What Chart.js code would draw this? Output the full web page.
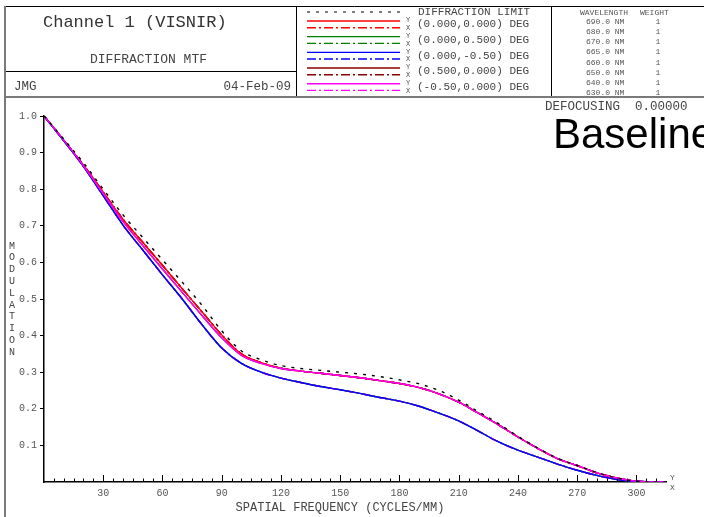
<!DOCTYPE html>
<html>
<head>
<meta charset="utf-8">
<title>Channel 1 (VISNIR) - Diffraction MTF</title>
<script src="https://cdn.jsdelivr.net/npm/chart.js@4/dist/chart.umd.min.js"></script>
<style>
  html, body { margin: 0; padding: 0; background: #fff; }
  #wrap { width: 704px; height: 517px; }
</style>
</head>
<body>
<div id="wrap"><canvas id="mtf" width="704" height="517"></canvas></div>
<script>
// spatial frequency samples (cycles/mm)
const freqs = [0, 10, 20, 30, 40, 50, 60, 70, 80, 90, 100, 110, 120, 130, 140, 150, 160,
  170, 180, 190, 200, 210, 220, 230, 240, 250, 260, 270, 280, 290, 300, 310, 315];

// modulation values
const mtfDiffraction = [1.0, 0.937, 0.872, 0.800, 0.730, 0.668, 0.607, 0.546, 0.483, 0.413,
  0.358, 0.334, 0.318, 0.310, 0.305, 0.300, 0.295, 0.288, 0.279, 0.268, 0.250, 0.224, 0.192,
  0.160, 0.125, 0.093, 0.065, 0.045, 0.026, 0.011, 0.002, 0.0, 0.0];
const mtfUpper = [1.0, 0.934, 0.866, 0.792, 0.718, 0.655, 0.592, 0.528, 0.465, 0.402,
  0.350, 0.326, 0.311, 0.303, 0.297, 0.291, 0.285, 0.277, 0.269, 0.258, 0.241, 0.218, 0.188,
  0.157, 0.123, 0.092, 0.064, 0.045, 0.025, 0.011, 0.002, 0.0, 0.0];
const mtfUpperOff = [1.0, 0.934, 0.864, 0.788, 0.712, 0.646, 0.582, 0.518, 0.455, 0.394,
  0.346, 0.324, 0.310, 0.303, 0.297, 0.291, 0.285, 0.277, 0.269, 0.258, 0.241, 0.218, 0.188,
  0.157, 0.123, 0.092, 0.064, 0.045, 0.025, 0.011, 0.002, 0.0, 0.0];
const mtfLower = [1.0, 0.932, 0.862, 0.782, 0.702, 0.634, 0.566, 0.500, 0.430, 0.366,
  0.324, 0.300, 0.284, 0.272, 0.261, 0.252, 0.242, 0.231, 0.221, 0.207, 0.188, 0.167, 0.139,
  0.110, 0.087, 0.068, 0.049, 0.032, 0.018, 0.007, 0.002, 0.0, 0.0];

const yTicks = [0.1, 0.2, 0.3, 0.4, 0.5, 0.6, 0.7, 0.8, 0.9, 1.0];
const xTickLabels = [30, 60, 90, 120, 150, 180, 210, 240, 270, 300];

// field legend
const fieldLabels = ["(0.000,0.000) DEG", "(0.000,0.500) DEG", "(0.000,-0.50) DEG",
  "(0.500,0.000) DEG", "(-0.50,0.000) DEG"];
const fieldColors = ["#ff0000", "#008000", "#0000ff", "#8b0000", "#ff00ff"];

const wavelengths = ["690.0", "680.0", "670.0", "665.0", "660.0", "650.0", "640.0", "630.0"];
const weights = [1, 1, 1, 1, 1, 1, 1, 1];

const MONO = "'Liberation Mono', 'DejaVu Sans Mono', monospace";
const dashDot = [9, 3, 2, 3];
const dotted = [3, 6];

function pts(values) {
  return freqs.map((f, i) => ({ x: f, y: values[i] }));
}

function line(label, values, color, dash) {
  return {
    label: label,
    data: pts(values),
    borderColor: color,
    borderWidth: 1.4,
    borderDash: dash || [],
    pointRadius: 0,
    cubicInterpolationMode: "monotone",
    fill: false
  };
}

// first dataset ends up on top
const datasets = [
  line("DIFFRACTION LIMIT", mtfDiffraction, "#000000", dotted),
  line("(-0.50,0.000) Y", mtfUpperOff, fieldColors[4]),
  line("(0.000,-0.50) Y", mtfLower, fieldColors[2]),
  line("(0.000,0.000) Y", mtfUpper, fieldColors[0]),
  line("(-0.50,0.000) X", mtfLower, fieldColors[4], dashDot),
  line("(0.000,0.500) Y", mtfLower, fieldColors[1]),
  line("(0.000,0.000) X", mtfUpper, fieldColors[0], dashDot),
  line("(0.000,-0.50) X", mtfUpper, fieldColors[2], dashDot),
  line("(0.500,0.000) Y", mtfUpperOff, fieldColors[3]),
  line("(0.000,0.500) X", mtfUpper, fieldColors[1], dashDot),
  line("(0.500,0.000) X", mtfLower, fieldColors[3], dashDot)
];

function seg(ctx, x1, y1, x2, y2) {
  ctx.beginPath();
  ctx.moveTo(x1, y1);
  ctx.lineTo(x2, y2);
  ctx.stroke();
}

// header block, legend, axis captions and inward x ticks
const plotDecor = {
  id: "plotDecor",
  beforeDraw(chart) {
    const ctx = chart.ctx;
    ctx.save();
    ctx.fillStyle = "#fff";
    ctx.fillRect(0, 0, chart.width, chart.height);
    ctx.restore();
  },
  afterDraw(chart) {
    const ctx = chart.ctx;
    const xs = chart.scales.x;
    ctx.save();

    // frame
    ctx.strokeStyle = "#000";
    ctx.lineWidth = 1;
    seg(ctx, 5, 6.5, 704, 6.5);
    seg(ctx, 5, 71.5, 296, 71.5);
    seg(ctx, 296.5, 6, 296.5, 97);
    seg(ctx, 551.5, 6, 551.5, 97);
    ctx.strokeStyle = "#7a7a7a";
    ctx.lineWidth = 2;
    seg(ctx, 5, 97, 704, 97);
    seg(ctx, 5, 6, 5, 517);

    // title block
    ctx.fillStyle = "#333";
    ctx.textBaseline = "middle";
    ctx.textAlign = "left";
    ctx.font = "17px " + MONO;
    ctx.fillText("Channel 1 (VISNIR)", 43, 22);
    ctx.font = "13px " + MONO;
    ctx.fillStyle = "#444";
    ctx.fillText("DIFFRACTION MTF", 90, 60);
    ctx.font = "12.5px " + MONO;
    ctx.fillText("JMG", 14, 87);
    ctx.textAlign = "right";
    ctx.fillText("04-Feb-09", 291, 87);

    // field legend
    ctx.textAlign = "left";
    ctx.font = "11px " + MONO;
    ctx.strokeStyle = "#000";
    ctx.lineWidth = 1;
    ctx.setLineDash(dotted);
    seg(ctx, 307, 12, 400, 12);
    ctx.setLineDash([]);
    ctx.fillText("DIFFRACTION LIMIT", 418, 12);
    fieldLabels.forEach((txt, i) => {
      const yy = 21 + i * 15.67;
      ctx.strokeStyle = fieldColors[i];
      ctx.lineWidth = 1.4;
      ctx.setLineDash([]);
      seg(ctx, 307, yy, 400, yy);
      ctx.setLineDash(dashDot);
      seg(ctx, 307, yy + 6.7, 400, yy + 6.7);
      ctx.setLineDash([]);
      ctx.fillStyle = "#555";
      ctx.font = "7px " + MONO;
      ctx.fillText("Y", 406, yy - 0.5);
      ctx.fillText("X", 406, yy + 7);
      ctx.fillStyle = "#444";
      ctx.font = "11px " + MONO;
      ctx.fillText(txt, 417, yy + 3.3);
    });

    // wavelength table
    ctx.fillStyle = "#555";
    ctx.font = "8px " + MONO;
    ctx.fillText("WAVELENGTH", 580, 13);
    ctx.fillText("WEIGHT", 640, 13);
    wavelengths.forEach((w, i) => {
      const yy = 21.7 + i * 10.2;
      ctx.textAlign = "left";
      ctx.fillText(w + " NM", 586, yy);
      ctx.textAlign = "center";
      ctx.fillText(String(weights[i]), 658, yy);
    });

    ctx.textAlign = "left";
    ctx.fillStyle = "#444";
    ctx.font = "12.5px " + MONO;
    ctx.fillText("DEFOCUSING  0.00000", 545, 107);

    ctx.fillStyle = "#000";
    ctx.textBaseline = "alphabetic";
    ctx.font = "42px 'Liberation Sans', Arial, sans-serif";
    ctx.fillText("Baseline", 553, 148);
    ctx.textBaseline = "middle";

    // inward ticks on the frequency axis
    ctx.strokeStyle = "#000";
    ctx.lineWidth = 1;
    const base = xs.top;
    xs.ticks.forEach(t => {
      if (t.value <= 0 || t.value >= 315) return;
      const px = Math.round(xs.getPixelForValue(t.value)) + 0.5;
      const len = t.value % 30 === 0 ? 7 : 3.5;
      seg(ctx, px, base, px, base - len);
    });

    // axis end markers
    ctx.fillStyle = "#555";
    ctx.font = "8px " + MONO;
    ctx.fillText("Y", xs.right + 4, base - 4);
    ctx.fillText("X", xs.right + 4, base + 6);

    // axis captions
    ctx.fillStyle = "#444";
    ctx.font = "12px " + MONO;
    ctx.textAlign = "center";
    ctx.fillText("SPATIAL FREQUENCY (CYCLES/MM)", 340, 508);
    ctx.font = "10px " + MONO;
    "MODULATION".split("").forEach((ch, i) => {
      ctx.fillText(ch, 12, 246 + i * 11.8);
    });

    ctx.restore();
  }
};

new Chart(document.getElementById("mtf"), {
  type: "line",
  data: { datasets: datasets },
  options: {
    responsive: false,
    animation: false,
    layout: { padding: { top: 116, left: 0, right: 38, bottom: 0 } },
    plugins: {
      legend: { display: false },
      tooltip: { enabled: false }
    },
    scales: {
      x: {
        type: "linear",
        min: 0,
        max: 315,
        afterFit: s => { s.height = 35; },
        afterBuildTicks: s => {
          s.ticks = [];
          for (let v = 0; v <= 315; v += 5) s.ticks.push({ value: v });
        },
        grid: { display: false, drawOnChartArea: false, drawTicks: false },
        border: { display: true, color: "#000", width: 1.5 },
        ticks: {
          autoSkip: false,
          maxRotation: 0,
          padding: 5,
          color: "#555",
          font: { family: MONO, size: 10 },
          callback: v => xTickLabels.includes(v) ? String(v) : ""
        }
      },
      y: {
        type: "linear",
        min: 0,
        max: 1,
        afterFit: s => { s.width = 44; },
        afterBuildTicks: s => {
          s.ticks = yTicks.map(v => ({ value: v }));
        },
        grid: { drawOnChartArea: false, tickLength: 4, color: "#000" },
        border: { display: true, color: "#000", width: 1.5 },
        ticks: {
          padding: 3,
          color: "#555",
          font: { family: MONO, size: 10 },
          callback: v => v.toFixed(1)
        }
      }
    }
  },
  plugins: [plotDecor]
});
</script>
</body>
</html>
